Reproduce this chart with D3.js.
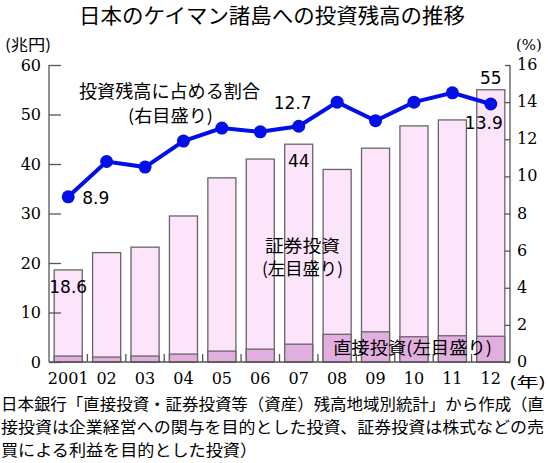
<!DOCTYPE html>
<html>
<head>
<meta charset="utf-8">
<script src="https://cdn.jsdelivr.net/npm/d3@7"></script>
<style>
  body { margin: 0; background: #fff; }
  svg { display: block; }
</style>
</head>
<body>
<svg width="548" height="463"></svg>
<script>
const years = ["2001", "02", "03", "04", "05", "06", "07", "08", "09", "10", "11", "12"];
const totalInvest = [18.6, 22.1, 23.2, 29.5, 37.2, 41.0, 44, 38.9, 43.2, 47.7, 48.9, 55];
const directInvest = [1.2, 1.0, 1.2, 1.6, 2.2, 2.6, 3.6, 5.6, 6.1, 5.1, 5.3, 5.2];
const sharePct = [8.9, 10.8, 10.5, 11.9, 12.6, 12.4, 12.7, 14.0, 13.0, 14.0, 14.5, 13.9];
const leftTicks = [0, 10, 20, 30, 40, 50, 60];
const rightTicks = [0, 2, 4, 6, 8, 10, 12, 14, 16];
const footnote = [
  "日本銀行「直接投資・証券投資等（資産）残高地域別統計」から作成（直",
  "接投資は企業経営への関与を目的とした投資、証券投資は株式などの売",
  "買による利益を目的とした投資）"
];

const svg = d3.select("svg");
const serif = "'DejaVu Serif', serif";
const sans = "'DejaVu Sans', sans-serif";
const jp = "'Noto Sans CJK JP', sans-serif";

const plotLeft = 49, plotRight = 510, plotTop = 65, plotBottom = 362;

const x = d3.scaleBand().domain(years).range([plotLeft, plotRight]).paddingInner(0.27).paddingOuter(0.135);
const yL = d3.scaleLinear().domain([0, 60]).range([plotBottom, plotTop]);
const yR = d3.scaleLinear().domain([0, 16]).range([plotBottom, plotTop]);

// title
svg.append("text")
    .attr("x", 272).attr("y", 23)
    .attr("text-anchor", "middle")
    .attr("font-family", jp).attr("font-size", 21)
    .attr("textLength", 386).attr("lengthAdjust", "spacingAndGlyphs")
    .text("日本のケイマン諸島への投資残高の推移");

// bars: securities (total) then direct on top
const bars = svg.append("g").attr("stroke", "#666").attr("stroke-width", 1.3);
bars.selectAll("rect.total")
    .data(years)
    .join("rect")
    .attr("class", "total")
    .attr("x", d => x(d))
    .attr("width", x.bandwidth())
    .attr("y", (d, i) => yL(totalInvest[i]))
    .attr("height", (d, i) => plotBottom - yL(totalInvest[i]))
    .attr("fill", "#fce4fa");
bars.selectAll("rect.direct")
    .data(years)
    .join("rect")
    .attr("class", "direct")
    .attr("x", d => x(d))
    .attr("width", x.bandwidth())
    .attr("y", (d, i) => yL(directInvest[i]))
    .attr("height", (d, i) => plotBottom - yL(directInvest[i]))
    .attr("fill", "#e2aee0");

// left axis
const axL = svg.append("g").attr("transform", `translate(${plotLeft},0)`)
    .call(d3.axisRight(yL).tickValues(leftTicks).tickSize(12).tickFormat(""));
axL.select(".domain").attr("stroke", "#555").attr("stroke-width", 1.3).attr("d", `M0,${plotTop}V${plotBottom}`);
axL.selectAll(".tick line").attr("stroke", "#555").attr("stroke-width", 1.3);
svg.append("g").selectAll("text")
    .data(leftTicks)
    .join("text")
    .attr("x", 41).attr("y", d => yL(d))
    .attr("dy", "0.36em")
    .attr("text-anchor", "end")
    .attr("font-family", serif).attr("font-size", 16)
    .text(d => d);

// right axis
const axR = svg.append("g").attr("transform", `translate(${plotRight},0)`)
    .call(d3.axisLeft(yR).tickValues(rightTicks).tickSize(5).tickFormat(""));
axR.select(".domain").attr("stroke", "#555").attr("stroke-width", 1.3).attr("d", `M0,${plotTop}V${plotBottom}`);
axR.selectAll(".tick line").attr("stroke", "#555").attr("stroke-width", 1.3);
svg.append("g").selectAll("text")
    .data(rightTicks)
    .join("text")
    .attr("x", 517).attr("y", d => yR(d))
    .attr("dy", "0.32em")
    .attr("font-family", serif).attr("font-size", 16)
    .text(d => d);

// bottom axis with ticks between bars
svg.append("line")
    .attr("x1", plotLeft).attr("x2", plotRight).attr("y1", plotBottom).attr("y2", plotBottom)
    .attr("stroke", "#555").attr("stroke-width", 1.3);
svg.append("g").selectAll("line")
    .data(years.slice(1))
    .join("line")
    .attr("x1", d => x(d) - x.step() * x.paddingInner() / 2)
    .attr("x2", d => x(d) - x.step() * x.paddingInner() / 2)
    .attr("y1", plotBottom).attr("y2", plotBottom - 8)
    .attr("stroke", "#555").attr("stroke-width", 1.3);
svg.append("g").selectAll("text")
    .data(years)
    .join("text")
    .attr("x", d => x(d) + x.bandwidth() / 2)
    .attr("y", 384)
    .attr("text-anchor", "middle")
    .attr("font-family", serif).attr("font-size", 16)
    .text(d => d);

// unit labels
svg.append("text").attr("x", 5).attr("y", 50)
    .attr("font-family", jp).attr("font-size", 15)
    .attr("textLength", 46).attr("lengthAdjust", "spacingAndGlyphs")
    .text("(兆円)");
svg.append("text").attr("x", 516).attr("y", 50)
    .attr("font-family", serif).attr("font-size", 15).text("(%)");
svg.append("text").attr("x", 509).attr("y", 387)
    .attr("font-family", jp).attr("font-size", 14)
    .attr("textLength", 37).attr("lengthAdjust", "spacingAndGlyphs")
    .text("(年)");

// share line
const cx = i => x(years[i]) + x.bandwidth() / 2;
const line = d3.line().x((d, i) => cx(i)).y(d => yR(d));
svg.append("path")
    .datum(sharePct)
    .attr("d", line)
    .attr("fill", "none")
    .attr("stroke", "#0010e6")
    .attr("stroke-width", 4);
svg.append("g").selectAll("circle")
    .data(sharePct)
    .join("circle")
    .attr("cx", (d, i) => cx(i))
    .attr("cy", d => yR(d))
    .attr("r", 6.5)
    .attr("fill", "#0010e6");

// value labels
function valueLabel(px, py, txt, anchor) {
  svg.append("text")
      .attr("x", px).attr("y", py)
      .attr("dy", "0.36em")
      .attr("text-anchor", anchor)
      .attr("font-family", sans).attr("font-size", 17)
      .text(txt);
}
valueLabel(cx(0) + 14, yR(sharePct[0]) + 1, sharePct[0].toFixed(1), "start");
valueLabel(cx(6) - 6, yR(sharePct[6]) - 23, sharePct[6].toFixed(1), "middle");
valueLabel(cx(11) - 7, yR(sharePct[11]) + 19, sharePct[11].toFixed(1), "middle");
valueLabel(cx(0), yL(totalInvest[0]) + 17, totalInvest[0].toFixed(1), "middle");
valueLabel(cx(6), yL(totalInvest[6]) + 17, totalInvest[6], "middle");
valueLabel(cx(11), yL(totalInvest[11]) - 12, totalInvest[11], "middle");

// series labels
function jpLabel(px, py, txt, size, len) {
  svg.append("text")
      .attr("x", px).attr("y", py)
      .attr("dy", "0.36em")
      .attr("font-family", jp).attr("font-size", size)
      .attr("textLength", len).attr("lengthAdjust", "spacingAndGlyphs")
      .text(txt);
}
jpLabel(79, 92, "投資残高に占める割合", 18, 181);
jpLabel(128, 116, "(右目盛り)", 17, 85);
jpLabel(265, 246, "証券投資", 17, 75);
jpLabel(262, 269, "(左目盛り)", 17, 81);
jpLabel(333, 348, "直接投資(左目盛り)", 17, 159);

// footnote
const footLen = [543, 543, 256];
svg.append("g").selectAll("text")
    .data(footnote)
    .join("text")
    .attr("x", 1)
    .attr("y", (d, i) => 410 + i * 23)
    .attr("font-family", jp).attr("font-size", 16.2)
    .attr("textLength", (d, i) => footLen[i])
    .attr("lengthAdjust", "spacingAndGlyphs")
    .text(d => d);
</script>
</body>
</html>
